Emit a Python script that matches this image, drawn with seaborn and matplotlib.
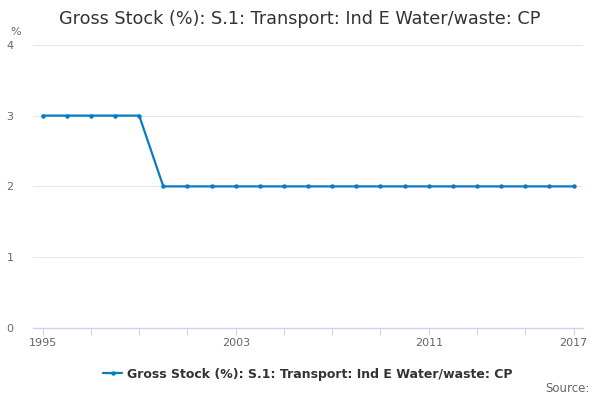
import numpy as np
import pandas as pd
import matplotlib
matplotlib.use("Agg")
import matplotlib.pyplot as plt
import seaborn as sns

# Chart data
years = list(range(1995, 2018))
values = [3, 3, 3, 3, 3] + [2] * 18
series_name = "Gross Stock (%): S.1: Transport: Ind E Water/waste: CP"
x_labels = [1995, 2003, 2011, 2017]
y_ticks = [0, 1, 2, 3, 4]

df = pd.DataFrame({"year": years, "value": values})

sns.set_style("white")
plt.rcParams["font.family"] = ["DejaVu Sans"]

line_color = "#0a7bc1"
text_color = "#333333"
tick_color = "#666666"

fig = plt.figure(figsize=(6, 4), dpi=100)
ax = fig.add_axes([0.055, 0.18, 0.917, 0.708])

sns.lineplot(data=df, x="year", y="value", ax=ax, color=line_color,
             linewidth=1.6, marker="o", markersize=3.2,
             markeredgewidth=0, label=series_name)

ax.set_xlim(1994.6, 2017.4)
ax.set_ylim(0, 4)
ax.set_yticks(y_ticks)
ax.set_yticklabels([str(v) for v in y_ticks], color=tick_color, fontsize=8)
ax.yaxis.grid(True, color="#e6e6e6", linewidth=0.8)
ax.tick_params(axis="y", length=0, pad=14)

# minor ticks every two years, labels only at a few
ax.set_xticks(list(range(1995, 2018, 2)), minor=True)
ax.set_xticks(x_labels)
ax.set_xticklabels([str(v) for v in x_labels], color=tick_color, fontsize=8)
ax.tick_params(axis="x", which="both", bottom=True, direction="out",
               length=5, color="#ccd6eb", width=0.8, pad=2)

for side in ["top", "right", "left"]:
    ax.spines[side].set_visible(False)
ax.spines["bottom"].set_color("#ccd6eb")
ax.spines["bottom"].set_linewidth(1)

ax.set_xlabel("")
ax.set_ylabel("")
ax.text(-0.042, 1.035, "%", transform=ax.transAxes, color=tick_color, fontsize=8)

fig.suptitle("Gross Stock (%): S.1: Transport: Ind E Water/waste: CP",
             x=0.5, y=0.975, fontsize=12.7, color=text_color)

ax.legend(loc="upper center", bbox_to_anchor=(0.5, -0.1), frameon=False,
          prop={"weight": "bold", "size": 9}, labelcolor=text_color,
          handlelength=1.5, handletextpad=0.4)

fig.text(0.982, 0.02, "Source:", ha="right", color=tick_color, fontsize=8.5)

plt.savefig("out.png", dpi=100)
plt.close()
